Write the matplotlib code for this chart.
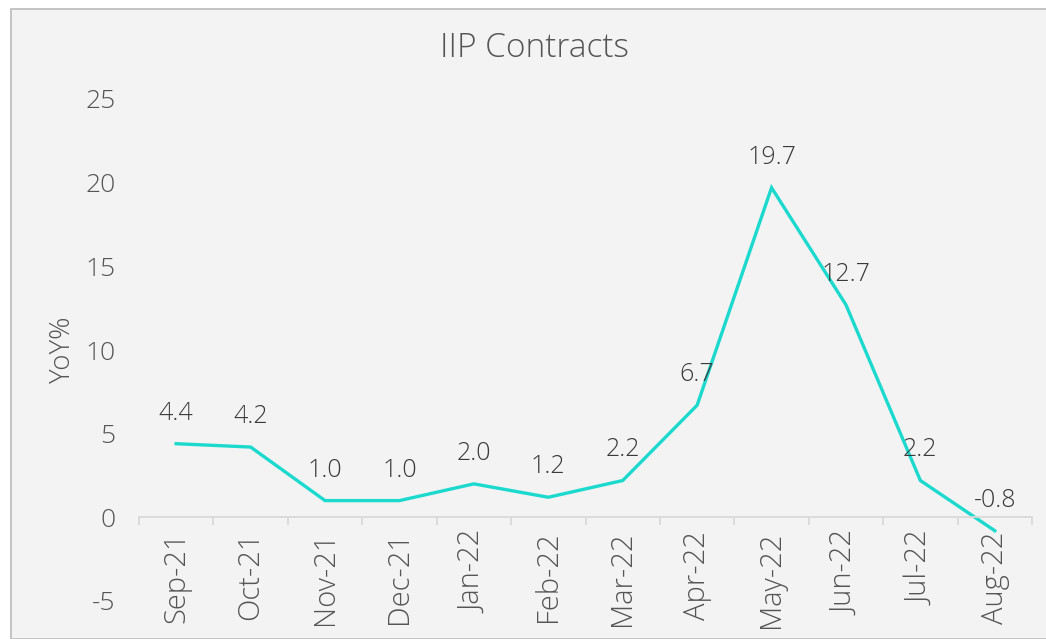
import numpy as np
import matplotlib.pyplot as plt
from matplotlib.patches import Rectangle

# ── Data ────────────────────────────────────────────────────────────────────
months = ["Sep-21", "Oct-21", "Nov-21", "Dec-21", "Jan-22", "Feb-22",
          "Mar-22", "Apr-22", "May-22", "Jun-22", "Jul-22", "Aug-22"]
yoy = [4.4, 4.2, 1.0, 1.0, 2.0, 1.2, 2.2, 6.7, 19.7, 12.7, 2.2, -0.8]

LINE_COLOR = "#1cd9ce"
TEXT_COLOR = "#555555"
LABEL_COLOR = "#3a3a3a"

plt.rcParams["font.family"] = ["Open Sans", "DejaVu Sans"]
plt.rcParams["font.weight"] = "light"
plt.rcParams["axes.labelweight"] = "light"
plt.rcParams["axes.unicode_minus"] = False

W, H = 1046, 639
fig = plt.figure(figsize=(W / 100, H / 100), dpi=100, facecolor="white")

# light panel with thin grey border (chart area of the original slide)
bg = Rectangle((11 / W, 0), 1.0, 1 - 9 / H, transform=fig.transFigure,
               facecolor="#f3f3f3", edgecolor="#c4c4c4", lw=1.4, zorder=-10)
fig.patches.append(bg)

ax = fig.add_axes([139 / W, 38 / H, (1032 - 139) / W, (601 - 99) / H])
ax.set_facecolor("none")

x = np.arange(len(months))
ax.plot(x, yoy, color=LINE_COLOR, lw=2.4, solid_joinstyle="miter")

for xi, v in zip(x, yoy):
    ax.annotate(f"{v:.1f}", (xi, v), xytext=(0, 22), textcoords="offset points",
                ha="center", va="center", fontsize=18, color=LABEL_COLOR)

ax.set_xlim(-0.5, len(months) - 0.5)
ax.set_ylim(-5, 25)
ax.set_yticks(np.arange(-5, 26, 5))

for s in ["top", "right", "left"]:
    ax.spines[s].set_visible(False)
ax.spines["bottom"].set_position(("data", 0))
ax.spines["bottom"].set_color("#d9d9d9")
ax.spines["bottom"].set_linewidth(1.3)

ax.set_xticks(x)
ax.set_xticklabels(months, rotation=90, fontsize=21, color=TEXT_COLOR)
ax.set_xticks(np.arange(-0.5, len(months), 1), minor=True)
ax.tick_params(axis="x", which="major", length=0, pad=10)
ax.tick_params(axis="x", which="minor", length=6, width=1.3, color="#d9d9d9")
ax.tick_params(axis="y", length=0, labelsize=19, labelcolor=TEXT_COLOR, pad=17)

ax.set_ylabel("YoY%", fontsize=20, color=TEXT_COLOR, labelpad=6,
              fontweight="light")
fig.text(534 / W, 1 - 48 / H, "IIP Contracts", ha="center", va="center",
         fontsize=24, color=TEXT_COLOR)

fig.savefig("out.png", dpi=100, facecolor=fig.get_facecolor())
